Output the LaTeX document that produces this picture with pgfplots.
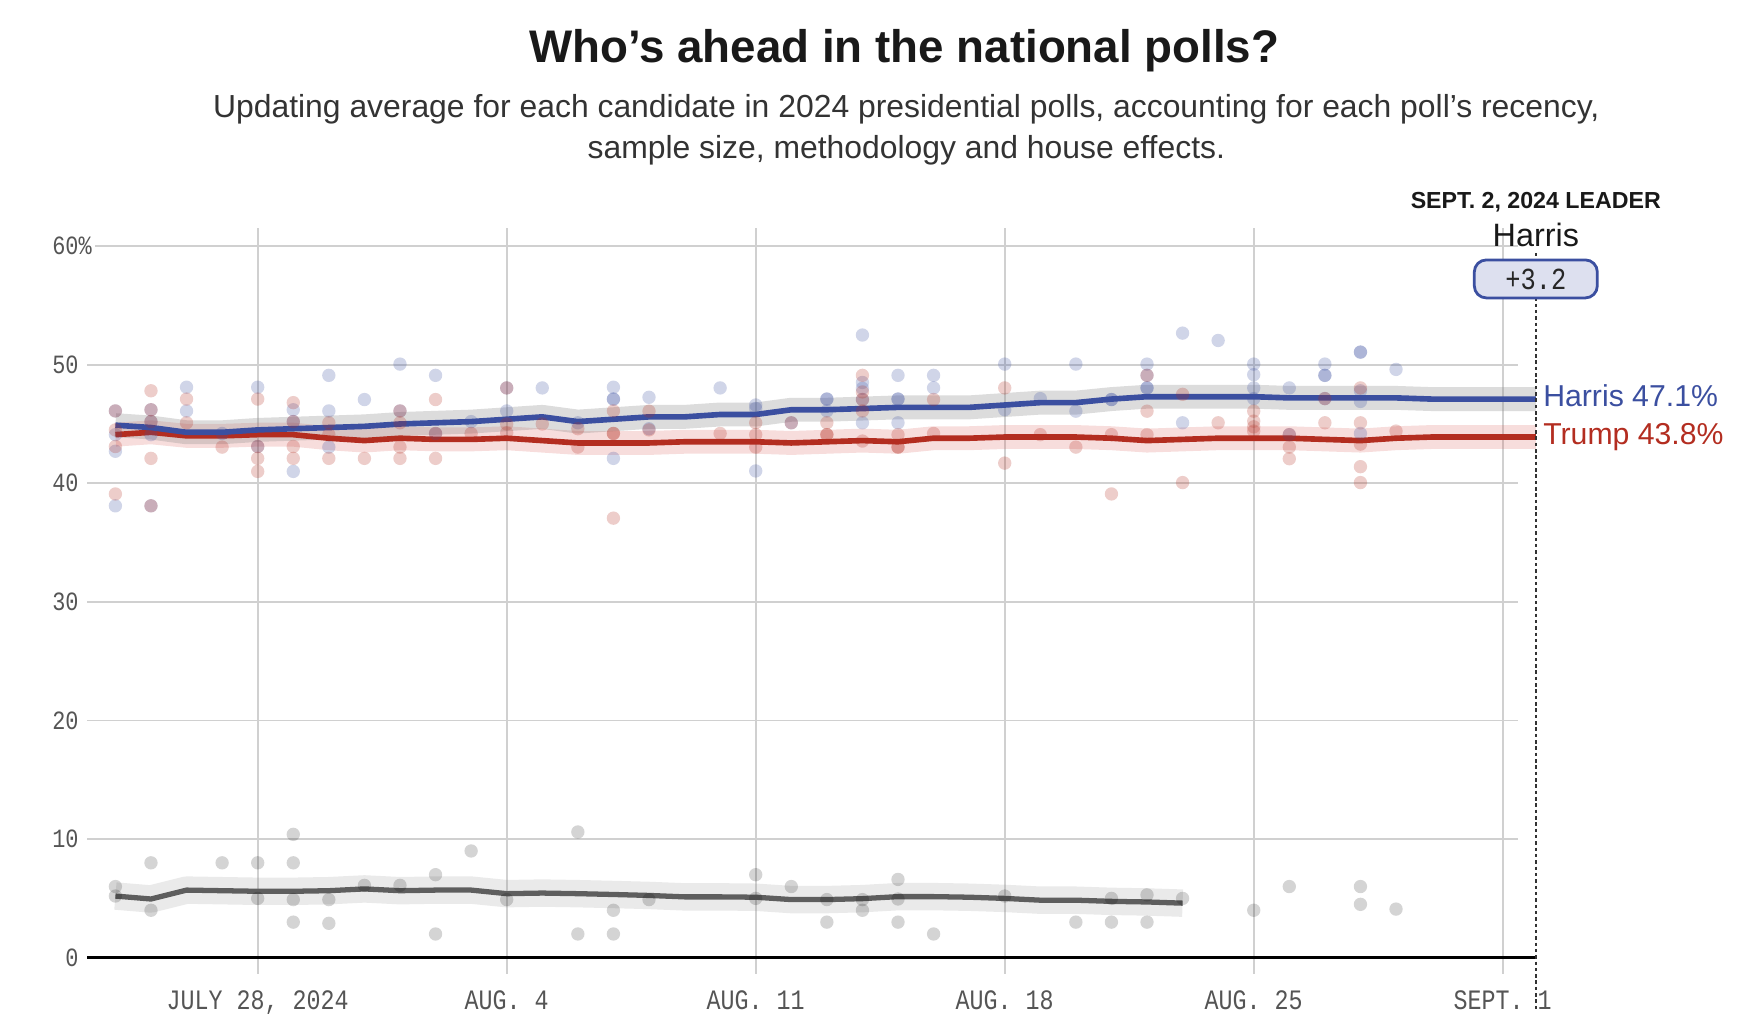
\documentclass[border=0pt]{standalone}
\usepackage{pgfplots}
\usepackage{pgfplotstable}
\pgfplotsset{compat=1.18}
\usepackage{fontspec}
\setmainfont{Liberation Sans}
\newfontfamily\tickfont[FakeStretch=0.83]{Liberation Mono}

\definecolor{harris}{HTML}{3B4FA0}
\definecolor{trump}{HTML}{B32D20}
\definecolor{other}{HTML}{5E5E5E}
\definecolor{gridgray}{HTML}{D0D0D0}
\definecolor{ticktext}{HTML}{555555}
\definecolor{boxfill}{HTML}{DDE0EF}
\definecolor{bandgray}{HTML}{8C8C8C}
\definecolor{bandred}{HTML}{D9534F}

% days counted from July 28, 2024
\pgfplotstableread{
day val
-4 44.9
-3 44.7
-2 44.3
-1 44.3
0 44.5
1 44.6
2 44.7
3 44.8
4 45.0
5 45.1
6 45.2
7 45.4
8 45.6
9 45.2
10 45.4
11 45.6
12 45.6
13 45.8
14 45.8
15 46.2
16 46.2
17 46.3
18 46.4
19 46.4
20 46.4
21 46.6
22 46.8
23 46.8
24 47.1
25 47.3
26 47.3
27 47.3
28 47.3
29 47.2
30 47.2
31 47.2
32 47.2
33 47.1
34 47.1
35 47.1
35.93 47.1
}\harrisavg

\pgfplotstableread{
day val
-4 44.1
-3 44.3
-2 44.0
-1 44.0
0 44.1
1 44.1
2 43.8
3 43.6
4 43.8
5 43.7
6 43.7
7 43.8
8 43.6
9 43.4
10 43.4
11 43.4
12 43.5
13 43.5
14 43.5
15 43.4
16 43.5
17 43.6
18 43.5
19 43.8
20 43.8
21 43.9
22 43.9
23 43.9
24 43.8
25 43.6
26 43.7
27 43.8
28 43.8
29 43.8
30 43.7
31 43.6
32 43.8
33 43.9
34 43.9
35 43.9
35.93 43.9
}\trumpavg

\pgfplotstableread{
day val
-4 5.2
-3 4.95
-2 5.7
-1 5.65
0 5.6
1 5.6
2 5.65
3 5.8
4 5.65
5 5.7
6 5.7
7 5.4
8 5.45
9 5.4
10 5.33
11 5.25
12 5.13
13 5.13
14 5.1
15 4.9
16 4.9
17 4.98
18 5.15
19 5.15
20 5.1
21 5.0
22 4.85
23 4.85
24 4.75
25 4.7
26 4.6
}\otheravg

\pgfplotstableread{
day val
-4 46.1
-4 44.1
-4 42.7
-4 38.1
-3 46.2
-3 45.2
-3 44.1
-3 38.1
-2 48.1
-2 46.1
-1 44.2
0 48.1
0 43.1
1 46.2
1 45.2
1 41.0
2 49.1
2 46.1
2 43.05
3 47.06
4 50.05
4 46.1
5 49.1
5 44.2
6 45.2
7 48.04
7 46.1
8 48.04
9 45.1
10 48.1
10 47.1
10 47.1
10 42.1
11 47.25
11 44.6
13 48.04
14 46.6
14 46.3
14 41.04
15 45.1
16 47.1
16 47.1
16 46.1
17 52.5
17 48.5
17 48.0
17 47.06
17 45.1
18 49.1
18 47.1
18 47.1
18 45.1
19 49.1
19 48.04
21 50.05
21 46.2
22 47.14
23 50.05
23 46.08
24 47.06
24 47.06
25 50.05
25 49.1
25 48.04
25 48.04
26 52.66
26 45.1
27 52.04
28 50.05
28 49.16
28 48.04
28 47.14
29 48.04
29 44.1
30 50.05
30 49.1
30 49.1
30 47.14
31 51.06
31 51.06
31 47.8
31 46.9
31 44.2
32 49.6
}\harrispolls

\pgfplotstableread{
day val
-4 46.1
-4 44.5
-4 43.1
-4 39.1
-3 47.8
-3 46.2
-3 45.2
-3 42.1
-3 38.1
-2 47.1
-2 45.1
-1 43.05
0 47.1
0 43.1
0 42.1
0 41.0
1 46.8
1 45.2
1 43.1
1 42.1
2 45.1
2 44.1
2 42.1
3 42.1
4 46.1
4 45.1
4 43.05
4 42.1
5 47.06
5 44.2
5 42.1
6 44.2
7 48.04
7 45.0
7 44.25
8 45.0
9 44.6
9 43.05
10 46.1
10 44.2
10 44.2
10 37.06
11 46.08
11 44.5
13 44.2
14 45.1
14 44.1
14 43.05
15 45.1
16 45.1
16 44.1
16 44.1
17 49.1
17 47.7
17 47.06
17 46.1
17 43.56
18 44.1
18 43.05
18 43.05
19 47.06
19 44.2
21 48.04
21 41.7
22 44.1
23 43.05
24 44.1
24 39.1
25 49.1
25 46.08
25 44.1
26 47.5
26 40.06
27 45.1
28 46.08
28 45.24
28 44.76
28 44.4
29 44.1
29 43.05
29 42.07
30 47.14
30 45.1
31 48.04
31 45.1
31 43.3
31 41.4
31 40.06
32 44.4
}\trumppolls

\pgfplotstableread{
day val
-4 6.0
-4 5.2
-3 8.0
-3 4.0
-1 8.0
0 8.0
0 5.0
1 10.4
1 8.0
1 4.9
1 3.0
2 4.9
2 2.9
3 6.1
4 6.1
5 7.0
5 2.0
6 9.0
7 4.9
9 10.6
9 2.0
10 4.0
10 2.0
11 4.9
14 7.0
14 5.0
15 6.0
16 4.9
16 3.0
17 4.9
17 4.0
18 6.6
18 4.95
18 3.0
19 2.0
21 5.2
23 3.0
24 5.0
24 3.0
25 5.3
25 3.0
26 5.0
28 4.0
29 6.0
31 6.0
31 4.5
32 4.1
}\otherpolls

\begin{document}
\begin{tikzpicture}
\useasboundingbox (-0.873,-0.663) rectangle (16.677,9.577);
\begin{axis}[
    at={(0,0)}, anchor=south west,
    scale only axis,
    width=14.485cm, height=7.294cm,
    xmin=-4.79, xmax=35.93,
    ymin=0, ymax=61.5,
    clip=false,
    axis line style={draw=none},
    tick style={draw=none},
    major tick length=0pt,
    xtick={0,7,14,21,28,35},
    xticklabels={{JULY 28, 2024},{AUG. 4},{AUG. 11},{AUG. 18},{AUG. 25},{SEPT. 1}},
    ytick={0,10,20,30,40,50,60},
    yticklabels={0,10,20,30,40,50,60\rlap{\%}},
    xticklabel style={anchor=base, yshift=-5.16mm, inner sep=0pt,
        font=\tickfont\fontsize{8}{9}\selectfont, text=ticktext},
    yticklabel style={anchor=east, xshift=-0.8mm, inner sep=0pt,
        font=\tickfont\fontsize{7.5}{8}\selectfont, text=ticktext},
    poll/.style={only marks, mark=*, mark size=1.9pt, color=#1,
        mark options={fill=#1, draw opacity=0, fill opacity=0.24}},
]
% grid
\pgfplotsinvokeforeach{10,20,30,40,50}{
  \draw[gridgray, line width=0.5pt] (axis cs:-4.79,#1) -- (axis cs:35.44,#1);
}
\draw[gridgray, line width=0.5pt] (axis cs:-4.57,60) -- (axis cs:35.44,60);
\pgfplotsinvokeforeach{0,7,14,21,28,35}{
  \draw[gridgray, line width=0.5pt] (axis cs:#1,-1.35) -- (axis cs:#1,61.5);
}

% uncertainty bands
\addplot[bandred, opacity=0.2, line width=6.8pt, line cap=butt, line join=round]
  table[x=day, y=val] {\trumpavg};
\addplot[bandgray, opacity=0.3, line width=6.8pt, line cap=butt, line join=round]
  table[x=day, y=val] {\harrisavg};
\addplot[bandgray, opacity=0.18, line width=7.8pt, line cap=butt, line join=round]
  table[x=day, y=val] {\otheravg};

% individual polls
\addplot[poll=harris] table[x=day, y=val] {\harrispolls};
\addplot[poll=trump] table[x=day, y=val] {\trumppolls};
\addplot[only marks, mark=*, mark size=1.9pt, color=black,
  mark options={fill=black, draw opacity=0, fill opacity=0.17}]
  table[x=day, y=val] {\otherpolls};

% averages
\addplot[other, line width=1.5pt, line join=round] table[x=day, y=val] {\otheravg};
\addplot[trump, line width=1.6pt, line join=round] table[x=day, y=val] {\trumpavg};
\addplot[harris, line width=1.6pt, line join=round] table[x=day, y=val] {\harrisavg};

% zero line and leader marker
\draw[black, line width=0.8pt] (axis cs:-4.79,0) -- (axis cs:35.93,0);
\draw[black!80, line width=0.5pt, dash pattern=on 1pt off 0.8pt]
  (axis cs:35.93,59.42) -- (axis cs:35.93,-4.41);
\node[draw=harris, fill=boxfill, rounded corners=1.2mm, line width=0.8pt,
  minimum width=12.3mm, minimum height=3.8mm, inner sep=0pt,
  font=\tickfont\fontsize{8.7}{9}\selectfont, text=black!85]
  at (axis cs:35.93,57.23) {+3.2};
\node[anchor=base, inner sep=0pt, font=\bfseries\fontsize{6.6}{7}\selectfont, text=black!90]
  at (axis cs:35.93,63.19) {SEPT. 2, 2024 LEADER};
\node[anchor=base, inner sep=0pt, font=\fontsize{9.2}{10}\selectfont, text=black!90]
  at (axis cs:35.93,60.0) {Harris};
\node[anchor=base west, inner sep=0pt, font=\fontsize{8.6}{10}\selectfont, text=harris]
  at (axis cs:36.12,46.46) {Harris 47.1\%};
\node[anchor=base west, inner sep=0pt, font=\fontsize{8.6}{10}\selectfont, text=trump]
  at (axis cs:36.12,43.23) {Trump 43.8\%};
\end{axis}

\node[anchor=base, inner sep=0pt, font=\bfseries\fontsize{13}{15}\selectfont, text=black!90]
  at (8.17,8.957) {Who’s ahead in the national polls?};
\node[anchor=base, inner sep=0pt, font=\fontsize{9.07}{10}\selectfont, text=black!80]
  at (8.19,8.404) {Updating average for each candidate in 2024 presidential polls, accounting for each poll’s recency,};
\node[anchor=base, inner sep=0pt, font=\fontsize{9.07}{10}\selectfont, text=black!80]
  at (8.19,7.994) {sample size, methodology and house effects.};
\end{tikzpicture}
\end{document}
